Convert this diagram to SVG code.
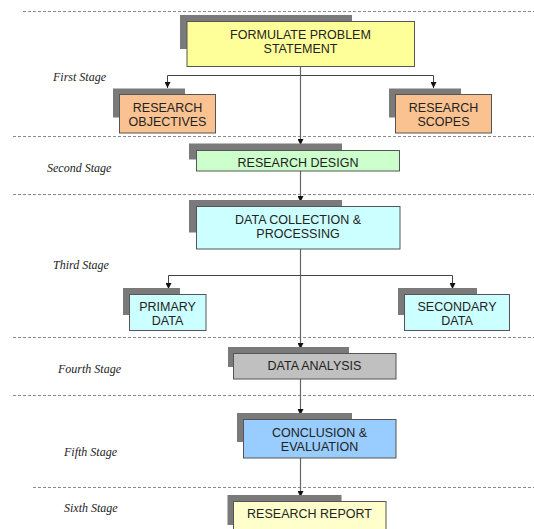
<svg xmlns="http://www.w3.org/2000/svg" width="534" height="529" viewBox="0 0 534 529">
<defs>
<style>
.bg{fill:#ffffff}
.dash{stroke:#8a8a8a;stroke-width:1;stroke-dasharray:3,2;fill:none}
.stage{font-family:"Liberation Serif","Times New Roman",serif;font-style:italic;font-size:12px;fill:#222222}
.shadow{fill:#7a7a7a}
.box{stroke:#555555;stroke-width:1}
.lbl{font-family:"Liberation Sans",Arial,sans-serif;font-size:12.5px;fill:#222222;text-anchor:middle}
.conn{stroke:#444444;stroke-width:1;fill:none}
.center{stroke:#666666;stroke-width:1.2;fill:none}
</style>
<marker id="arr" viewBox="0 0 6 6" refX="6" refY="3" markerWidth="6" markerHeight="6" markerUnits="userSpaceOnUse" orient="auto">
<path d="M0,0 L6,3 L0,6 Z" fill="#111111"/>
</marker>
</defs>
<rect class="bg" x="0" y="0" width="534" height="529"/>

<g id="stage-lines">
<line class="dash" x1="23" y1="11.5" x2="534" y2="11.5"/>
<line class="dash" x1="13" y1="136.5" x2="534" y2="136.5"/>
<line class="dash" x1="13" y1="194.5" x2="534" y2="194.5"/>
<line class="dash" x1="13" y1="337.5" x2="534" y2="337.5"/>
<line class="dash" x1="13" y1="395.5" x2="534" y2="395.5"/>
<line class="dash" x1="33" y1="487.5" x2="534" y2="487.5"/>
</g>

<g id="stage-labels">
<text class="stage" x="53" y="81">First Stage</text>
<text class="stage" x="47" y="172">Second Stage</text>
<text class="stage" x="53" y="269">Third Stage</text>
<text class="stage" x="58" y="373">Fourth Stage</text>
<text class="stage" x="64" y="456">Fifth Stage</text>
<text class="stage" x="64" y="512">Sixth Stage</text>
</g>

<g id="connectors">
<line class="center" x1="300.5" y1="66" x2="300.5" y2="145" marker-end="url(#arr)"/>
<polyline class="conn" points="300.5,75.5 167.5,75.5 167.5,88" marker-end="url(#arr)"/>
<polyline class="conn" points="300.5,75.5 433.5,75.5 433.5,88" marker-end="url(#arr)"/>
<line class="center" x1="300.5" y1="171" x2="300.5" y2="202" marker-end="url(#arr)"/>
<line class="center" x1="300.5" y1="249" x2="300.5" y2="349" marker-end="url(#arr)"/>
<polyline class="conn" points="300.5,275.5 168.5,275.5 168.5,289" marker-end="url(#arr)"/>
<polyline class="conn" points="300.5,275.5 452.5,275.5 452.5,289" marker-end="url(#arr)"/>
<line class="center" x1="300.5" y1="379" x2="300.5" y2="415" marker-end="url(#arr)"/>
<line class="center" x1="300.5" y1="458" x2="300.5" y2="497" marker-end="url(#arr)"/>
</g>

<g id="formulate">
<rect class="shadow" x="180" y="15" width="172" height="34"/>
<rect class="box" x="187" y="21.5" width="227.5" height="45" fill="#ffff99"/>
<text class="lbl" x="300.5" y="38.5">FORMULATE PROBLEM</text>
<text class="lbl" x="300.5" y="53">STATEMENT</text>
</g>

<g id="objectives">
<rect class="shadow" x="113" y="88.5" width="72" height="29"/>
<rect class="box" x="119.5" y="94.5" width="96" height="38.5" fill="#fac291"/>
<text class="lbl" x="167.5" y="112">RESEARCH</text>
<text class="lbl" x="167.5" y="126">OBJECTIVES</text>
</g>

<g id="scopes">
<rect class="shadow" x="389" y="88.5" width="72" height="29"/>
<rect class="box" x="395.5" y="94.5" width="96" height="38.5" fill="#fac291"/>
<text class="lbl" x="443.5" y="112">RESEARCH</text>
<text class="lbl" x="443.5" y="126">SCOPES</text>
</g>

<g id="design">
<rect class="shadow" x="189" y="143.5" width="153" height="16"/>
<rect class="box" x="196.5" y="150.5" width="203" height="20.5" fill="#ccffcc"/>
<text class="lbl" x="298" y="166.5">RESEARCH DESIGN</text>
</g>

<g id="collection">
<rect class="shadow" x="189" y="200" width="153" height="32.5"/>
<rect class="box" x="196.5" y="206.5" width="203.5" height="42.5" fill="#ccffff"/>
<text class="lbl" x="298" y="223.5">DATA COLLECTION &amp;</text>
<text class="lbl" x="298" y="237.5">PROCESSING</text>
</g>

<g id="primary">
<rect class="shadow" x="123" y="288" width="57" height="27"/>
<rect class="box" x="129.5" y="294.5" width="76.5" height="36" fill="#ccffff"/>
<text class="lbl" x="167.5" y="311">PRIMARY</text>
<text class="lbl" x="167.5" y="324.5">DATA</text>
</g>

<g id="secondary">
<rect class="shadow" x="398" y="288" width="79" height="27"/>
<rect class="box" x="404.5" y="294.5" width="105" height="36" fill="#ccffff"/>
<text class="lbl" x="457" y="311">SECONDARY</text>
<text class="lbl" x="457" y="324.5">DATA</text>
</g>

<g id="analysis">
<rect class="shadow" x="228" y="347" width="121" height="20"/>
<rect class="box" x="233.5" y="353.5" width="162.5" height="25.5" fill="#c0c0c0"/>
<text class="lbl" x="314.5" y="370">DATA ANALYSIS</text>
</g>

<g id="conclusion">
<rect class="shadow" x="237" y="413" width="115" height="29"/>
<rect class="box" x="243.5" y="419.5" width="152.5" height="38.5" fill="#99ccff"/>
<text class="lbl" x="319.5" y="437">CONCLUSION &amp;</text>
<text class="lbl" x="319.5" y="451">EVALUATION</text>
</g>

<g id="report">
<rect class="shadow" x="227.5" y="495" width="114" height="30"/>
<rect class="box" x="233.5" y="501.5" width="152.5" height="40" fill="#ffffcc"/>
<text class="lbl" x="309.5" y="518">RESEARCH REPORT</text>
</g>
</svg>
